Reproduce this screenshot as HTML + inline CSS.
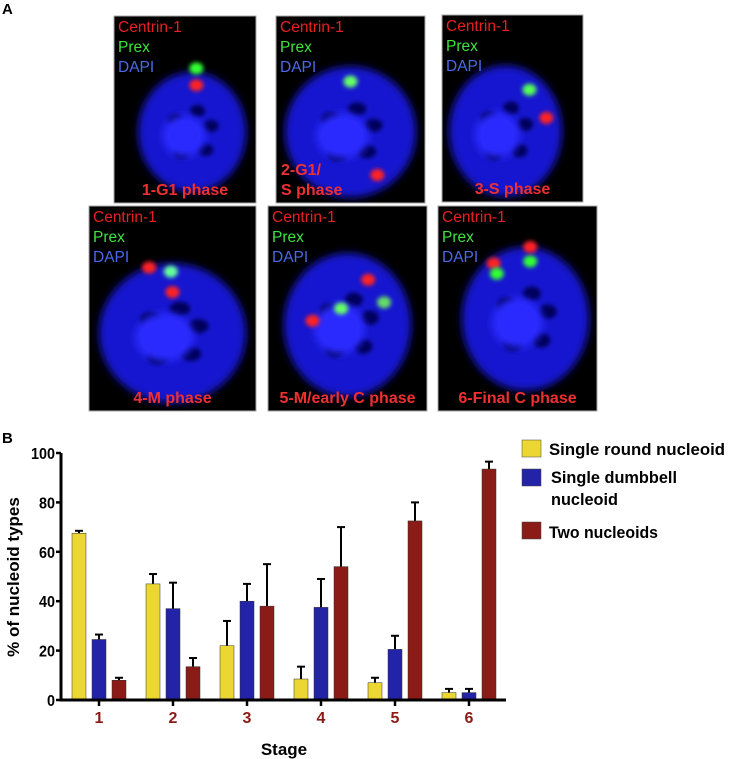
<!DOCTYPE html>
<html><head><meta charset="utf-8"><style>
html,body{margin:0;padding:0;background:#fff;}
svg{display:block;font-family:"Liberation Sans",sans-serif;}
</style></head><body>
<svg id="fig" width="732" height="759" viewBox="0 0 732 759">
<defs>
<filter id="blur" x="-20%" y="-20%" width="140%" height="140%"><feGaussianBlur stdDeviation="4"/></filter>
<filter id="blur2" x="-50%" y="-50%" width="200%" height="200%"><feGaussianBlur stdDeviation="2"/></filter>
</defs>
<text x="2" y="14" font-size="15" font-weight="bold">A</text>
<g id="panels"></g>
<text x="2" y="443" font-size="15" font-weight="bold">B</text>
<g id="chart"></g>
</svg>
<script>
const NS="http://www.w3.org/2000/svg";
function mk(parent,tag,attrs,text){const e=document.createElementNS(NS,tag);for(const k in attrs)e.setAttribute(k,attrs[k]);if(text!==undefined)e.textContent=text;parent.appendChild(e);return e;}

// ---------- Micrograph panels ----------
const panels=[
 {x:114,y:16,w:142,h:187,label:["1-G1 phase"],cx:0.55,cy:0.62,rx:0.38,ry:0.32,dots:[[0.58,0.28,'#3f3'],[0.58,0.37,'#f22']]},
 {x:276,y:16,w:149,h:187,label:["2-G1/","S phase"],cx:0.5,cy:0.62,rx:0.44,ry:0.35,dots:[[0.5,0.35,'#6f6'],[0.68,0.85,'#f22']]},
 {x:442,y:15,w:141,h:187,label:["3-S phase"],cx:0.45,cy:0.62,rx:0.4,ry:0.35,dots:[[0.62,0.4,'#5f5'],[0.74,0.55,'#f22']]},
 {x:89,y:206,w:167,h:205,label:["4-M phase"],cx:0.5,cy:0.62,rx:0.44,ry:0.34,dots:[[0.36,0.3,'#f22'],[0.49,0.32,'#6f9'],[0.5,0.42,'#f22']]},
 {x:268,y:206,w:159,h:205,label:["5-M/early C phase"],cx:0.5,cy:0.58,rx:0.4,ry:0.35,dots:[[0.63,0.36,'#f22'],[0.46,0.5,'#6f6'],[0.28,0.56,'#f22'],[0.73,0.47,'#6d6']]},
 {x:438,y:206,w:159,h:205,label:["6-Final C phase"],cx:0.55,cy:0.55,rx:0.4,ry:0.35,dots:[[0.35,0.28,'#f22'],[0.37,0.33,'#3f3'],[0.58,0.27,'#3f3'],[0.58,0.2,'#f22']]}
];
const pg=document.getElementById('panels');
panels.forEach((p,i)=>{
 const g=mk(pg,'g',{});
 
 
 mk(g,'rect',{x:p.x,y:p.y,width:p.w,height:p.h,fill:'#000',stroke:'#aaa','stroke-width':1});
 const cp=mk(g,'clipPath',{id:'cp'+i});mk(cp,'rect',{x:p.x,y:p.y,width:p.w,height:p.h});
 const inner=mk(g,'g',{'clip-path':'url(#cp'+i+')'});
 const cx=p.x+p.cx*p.w, cy=p.y+p.cy*p.h, rx=p.rx*p.w, ry=p.ry*p.h;
 mk(inner,'ellipse',{cx:cx,cy:cy,rx:rx,ry:ry,fill:'#1818d0',filter:'url(#blur)'});
 [[-0.3,-0.2],[0.25,0.3],[0.1,-0.35],[-0.2,0.35],[0.35,-0.1]].forEach(d=>mk(inner,'ellipse',{cx:cx+d[0]*rx,cy:cy+d[1]*ry,rx:rx*0.14,ry:ry*0.1,fill:'#05055a',filter:'url(#blur2)'}));
 mk(inner,'ellipse',{cx:cx-8,cy:cy+4,rx:rx*0.4,ry:ry*0.35,fill:'#2a2aff',filter:'url(#blur)'});
 p.dots.forEach(d=>mk(inner,'ellipse',{cx:p.x+d[0]*p.w,cy:p.y+d[1]*p.h,rx:7,ry:6,fill:d[2],filter:'url(#blur2)'}));
 [['Centrin-1','#e82020'],['Prex','#3ee23e'],['DAPI','#4a6ae8']].forEach((s,j)=>{mk(g,'text',{x:p.x+4,y:p.y+16+j*20,'font-size':15.5,fill:s[1]},s[0]);});
 p.label.forEach((l,j)=>{
  const n=p.label.length;
  mk(g,'text',{x:(n>1?p.x+5:p.x+p.w/2),y:p.y+p.h-8-(n-1-j)*20,'font-size':16,'font-weight':'bold',fill:'#f03030','text-anchor':(n>1?'start':'middle')},l);
 });
});

// ---------- Bar chart data ----------
const stages=["1","2","3","4","5","6"];
const seriesNames=["Single round nucleoid","Single dumbbell nucleoid","Two nucleoids"];
const roundVals=[67.5,47,22,8.5,7,3];
const roundErr=[68.5,51,32,13.5,9,4.5];
const dumbVals=[24.5,37,40,37.5,20.5,3];
const dumbErr=[26.5,47.5,47,49,26,4.5];
const twoVals=[8,13.5,38,54,72.5,93.5];
const twoErr=[9,17,55,70,80,96.5];
const yTicks=[0,20,40,60,80,100];

const colors=['#ecd631','#2323a8','#8a1b16'];
const X0=61,X1=506,Y0=700,Y100=453;
const yS=v=>Y0-(v/100)*(Y0-Y100);
const xS=i=>99+i*74;
const offs=[-20,0,20],BW=14;
const cg=document.getElementById('chart');

const series=[[roundVals,roundErr],[dumbVals,dumbErr],[twoVals,twoErr]];
series.forEach((s,si)=>{
 s[0].forEach((v,i)=>{
  const cx=xS(i)+offs[si];
  const e=mk(cg,'line',{x1:cx,x2:cx,y1:yS(v),y2:yS(s[1][i]),stroke:'#000','stroke-width':2});
  
  
  const c=mk(cg,'line',{x1:cx-4,x2:cx+4,y1:yS(s[1][i]),y2:yS(s[1][i]),stroke:'#000','stroke-width':2});
  
  
  const r=mk(cg,'rect',{x:cx-BW/2,y:yS(v),width:BW,height:Y0-yS(v),fill:colors[si],stroke:'#333','stroke-width':0.5});
  
  
 });
});
const ya=mk(cg,'line',{x1:X0,x2:X0,y1:Y100,y2:Y0+1.5,stroke:'#000','stroke-width':3});


const xa=mk(cg,'line',{x1:X0-1.5,x2:X1,y1:Y0,y2:Y0,stroke:'#000','stroke-width':3});


yTicks.forEach(t=>{
 mk(cg,'line',{x1:X0-5,x2:X0,y1:yS(t),y2:yS(t),stroke:'#000','stroke-width':2.5});
 const l=mk(cg,'text',{x:X0-6,y:yS(t)+6,'font-size':16,'font-weight':'bold','text-anchor':'end',textLength:(String(t).length*8).toFixed(0),lengthAdjust:'spacingAndGlyphs'},String(t));
 
 
});
stages.forEach((s,i)=>{
 mk(cg,'line',{x1:xS(i),x2:xS(i),y1:Y0,y2:Y0+6,stroke:'#000','stroke-width':2.5});
 const l=mk(cg,'text',{x:xS(i),y:723,'font-size':16,'font-weight':'bold',fill:'#8a1b16','text-anchor':'middle'},s);
 
 
});
const xt=mk(cg,'text',{x:284,y:755,'font-size':17,'font-weight':'bold','text-anchor':'middle'},'Stage');


const yt=mk(cg,'text',{x:0,y:0,'font-size':17,'font-weight':'bold','text-anchor':'middle',transform:'translate(19,577) rotate(-90)'},'% of nucleoid types');


const legY=[[440,[452]],[469,[480,502]],[522,[535]]];
const legLines=[["Single round nucleoid"],["Single dumbbell","nucleoid"],["Two nucleoids"]];
legY.forEach((L,i)=>{
 const g=mk(cg,'g',{});
 
 
 mk(g,'rect',{x:522,y:L[0],width:19,height:17,fill:colors[i],stroke:'#444','stroke-width':0.5});
 legLines[i].forEach((t,j)=>mk(g,'text',{x:549+(i==1?2:0),y:L[1][j]+3,'font-size':17,'font-weight':'bold',textLength:(t.length*8.4).toFixed(0),lengthAdjust:'spacingAndGlyphs'},t));
});
</script>
</body></html>
